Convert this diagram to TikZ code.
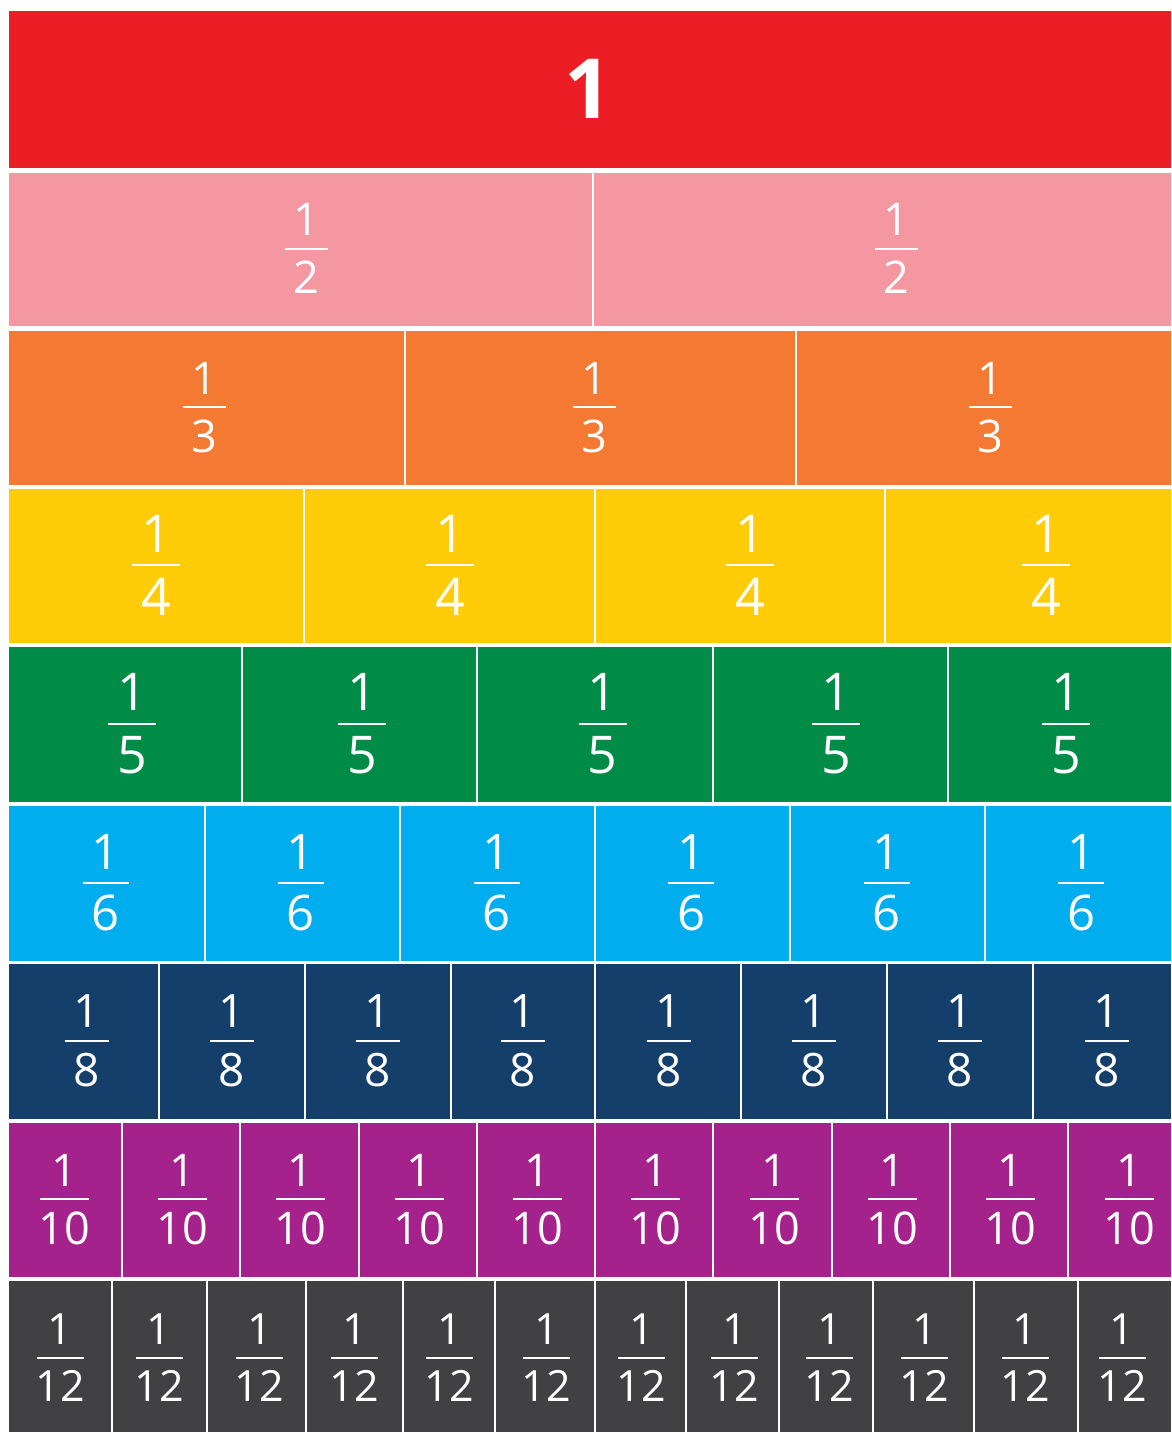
\documentclass[tikz,border=0pt]{standalone}
\usepackage{fontspec}
\setmainfont{Open Sans}
\definecolor{cRed}{HTML}{ED1D25}
\definecolor{cPink}{HTML}{F497A1}
\definecolor{cOrange}{HTML}{F47A33}
\definecolor{cYellow}{HTML}{FFCC07}
\definecolor{cGreen}{HTML}{008C46}
\definecolor{cBlue}{HTML}{00AEEF}
\definecolor{cNavy}{HTML}{153F6B}
\definecolor{cPurple}{HTML}{A5228D}
\definecolor{cGray}{HTML}{414143}
\tikzset{
  divider/.style={draw=white, line width=1.6pt},
  fracbar/.style={draw=white, line width=2pt},
  digit/.style={text=white, inner sep=0pt, anchor=base}
}
% #1 name, #2 top, #3 bottom, #4 colour, #5 dividers, #6 label centres,
% #7 denominator, #8 font size, #9 bar width
\newcommand{\fracrow}[9]{%
  \fill[#4] (9,#2) rectangle (1171,#3);
  \foreach \d in {#5} {\draw[divider] (\d,#2) -- (\d,#3);}
  \pgfmathsetmacro{\barY}{(#2+#3)/2-1}
  \pgfmathsetmacro{\numY}{\barY-13}
  \pgfmathsetmacro{\denY}{\barY+13+0.714*#8}
  \foreach \c [count=\i] in {#6} {
    \node[digit, font=\fontsize{#8}{#8}\selectfont] (#1n\i) at (\c,\numY) {1};
    \node[digit, font=\fontsize{#8}{#8}\selectfont] (#1d\i) at (\c,\denY) {#7};
    \draw[fracbar] ({\c-#9/2},\barY) -- ({\c+#9/2},\barY);
  }
}
\begin{document}
\begin{tikzpicture}[x=1pt, y=-1pt]
\useasboundingbox (0,0) rectangle (1171,1432);
\fill[white] (0,0) rectangle (1171,1432);
% whole
\fill[cRed] (9,11) rectangle (1171,168);
\node[digit, font=\fontsize{83}{83}\selectfont\bfseries] (one) at (588,118) {1};
\fracrow{ra}{173}{326}{cPink}{593}{306.5,896}{2}{45}{43}
\fracrow{rb}{331}{485}{cOrange}{405,796}{204,594,990}{3}{45}{43}
\fracrow{rc}{489}{643}{cYellow}{304,595,885}{156,450,750,1046}{4}{52}{48}
\fracrow{rd}{647}{802}{cGreen}{242,477,713,948}{132,362,602.5,836,1066}{5}{52}{48}
\fracrow{re}{806}{961}{cBlue}{205,400,595,790,985}{106,301,496.5,691,886.5,1081}{6}{49}{46}
\fracrow{rf}{964}{1119}{cNavy}{159,305,451,595,741,887,1033}{86.5,232,377.5,523,668.5,814,960,1107}{8}{46}{44}
\fracrow{rg}{1123}{1277}{cPurple}{122,240,359,477,595,713,832,950,1068}{64,182.5,300.5,419,537.5,655.5,774,892.5,1010.5,1129}{10}{45}{49}
\fracrow{rh}{1281}{1436}{cGray}{112,207,306,403,495,595,686,779,873,974,1078}{60,159,259.5,354.5,449.5,546.5,641.5,734.5,829.5,924.5,1025,1122}{12}{43}{47}
\end{tikzpicture}
\end{document}
